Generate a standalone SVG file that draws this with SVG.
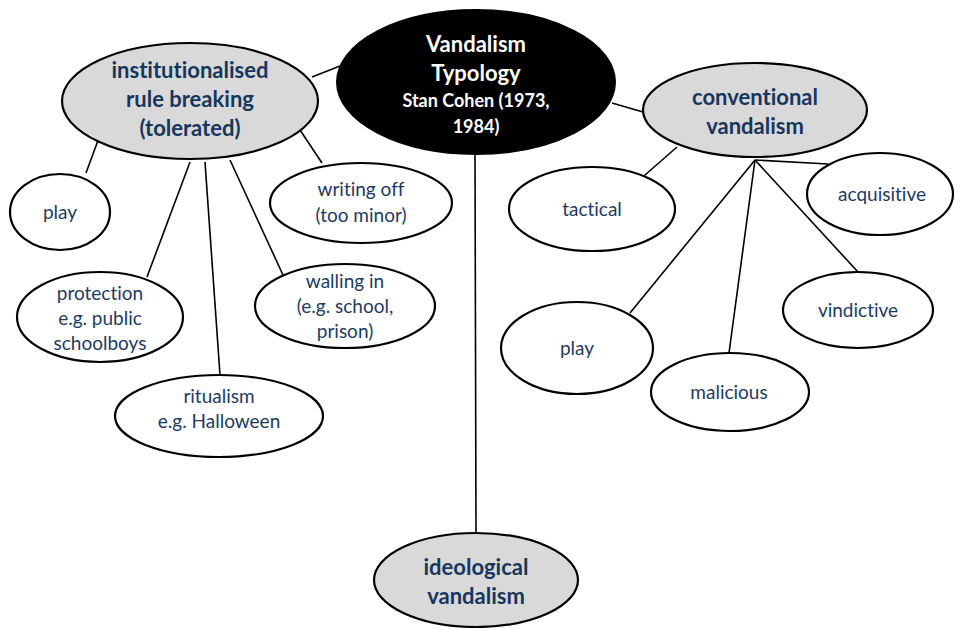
<svg xmlns="http://www.w3.org/2000/svg" width="954" height="628" viewBox="0 0 954 628">
<style>
text{font-variant-ligatures:none}
.n{fill:#fff;stroke:#000;stroke-width:2.2}
.g{fill:#d9d9d9;stroke:#000;stroke-width:2.2}
.c{fill:#000;stroke:#000;stroke-width:2}
.t{font-family:Lato,"Open Sans",sans-serif;font-size:19px;fill:#1f3a5f;text-anchor:middle}
.b{font-family:Lato,"Open Sans",sans-serif;font-size:22px;font-weight:bold;fill:#17365d;text-anchor:middle}
.w{font-family:Lato,"Open Sans",sans-serif;font-weight:bold;fill:#fff;text-anchor:middle}
#connectors line{stroke:#000;stroke-width:1.6}
</style>
<rect width="954" height="628" fill="#fff"/>
<g id="connectors">
<line x1="312" y1="77" x2="340" y2="66"/>
<line x1="612" y1="103" x2="643" y2="112"/>
<line x1="475" y1="155" x2="476" y2="533"/>
<line x1="100" y1="135" x2="86" y2="173"/>
<line x1="298" y1="127" x2="322" y2="163"/>
<line x1="190" y1="162" x2="147" y2="277"/>
<line x1="205" y1="162" x2="220" y2="375"/>
<line x1="230" y1="160" x2="283" y2="275"/>
<line x1="677" y1="147" x2="637" y2="182"/>
<line x1="755" y1="160" x2="828" y2="164"/>
<line x1="755" y1="160" x2="630" y2="313"/>
<line x1="755" y1="160" x2="729" y2="353"/>
<line x1="755" y1="160" x2="858" y2="272"/>
</g>
<g id="center">
<ellipse class="c" cx="476" cy="82" rx="139" ry="72"/>
<text class="w" x="476" y="52" font-size="22">Vandalism</text>
<text class="w" x="476" y="81" font-size="22">Typology</text>
<text class="w" x="476" y="107" font-size="18">Stan Cohen (1973,</text>
<text class="w" x="476" y="133" font-size="18">1984)</text>
</g>
<g id="institutionalised">
<ellipse class="g" cx="190" cy="101" rx="128" ry="58"/>
<text class="b" x="190" y="78">institutionalised</text>
<text class="b" x="190" y="107">rule breaking</text>
<text class="b" x="190" y="136">(tolerated)</text>
</g>
<g id="conventional">
<ellipse class="g" cx="755" cy="110" rx="112" ry="47"/>
<text class="b" x="755" y="105">conventional</text>
<text class="b" x="755" y="134">vandalism</text>
</g>
<g id="ideological">
<ellipse class="g" cx="476" cy="580" rx="102" ry="47"/>
<text class="b" x="476" y="575">ideological</text>
<text class="b" x="476" y="604">vandalism</text>
</g>
<g id="play-left">
<ellipse class="n" cx="60" cy="212" rx="50" ry="38"/>
<text class="t" x="60" y="219">play</text>
</g>
<g id="writing-off">
<ellipse class="n" cx="361" cy="203" rx="91" ry="40"/>
<text class="t" x="361" y="196">writing off</text>
<text class="t" x="361" y="222">(too minor)</text>
</g>
<g id="protection">
<ellipse class="n" cx="100" cy="317" rx="83" ry="45"/>
<text class="t" x="100" y="300">protection</text>
<text class="t" x="100" y="325">e.g. public</text>
<text class="t" x="100" y="350">schoolboys</text>
</g>
<g id="ritualism">
<ellipse class="n" cx="219" cy="416" rx="104" ry="41"/>
<text class="t" x="219" y="403">ritualism</text>
<text class="t" x="219" y="428">e.g. Halloween</text>
</g>
<g id="walling-in">
<ellipse class="n" cx="345" cy="306" rx="90" ry="42"/>
<text class="t" x="345" y="288">walling in</text>
<text class="t" x="345" y="313">(e.g. school,</text>
<text class="t" x="345" y="338">prison)</text>
</g>
<g id="tactical">
<ellipse class="n" cx="592" cy="209" rx="83" ry="42"/>
<text class="t" x="592" y="216">tactical</text>
</g>
<g id="acquisitive">
<ellipse class="n" cx="880" cy="194" rx="73" ry="41"/>
<text class="t" x="882" y="201">acquisitive</text>
</g>
<g id="play-right">
<ellipse class="n" cx="577" cy="348" rx="76" ry="46"/>
<text class="t" x="577" y="355">play</text>
</g>
<g id="malicious">
<ellipse class="n" cx="730" cy="392" rx="79" ry="39"/>
<text class="t" x="729" y="399">malicious</text>
</g>
<g id="vindictive">
<ellipse class="n" cx="858" cy="310" rx="75" ry="38"/>
<text class="t" x="858" y="317">vindictive</text>
</g>
</svg>
